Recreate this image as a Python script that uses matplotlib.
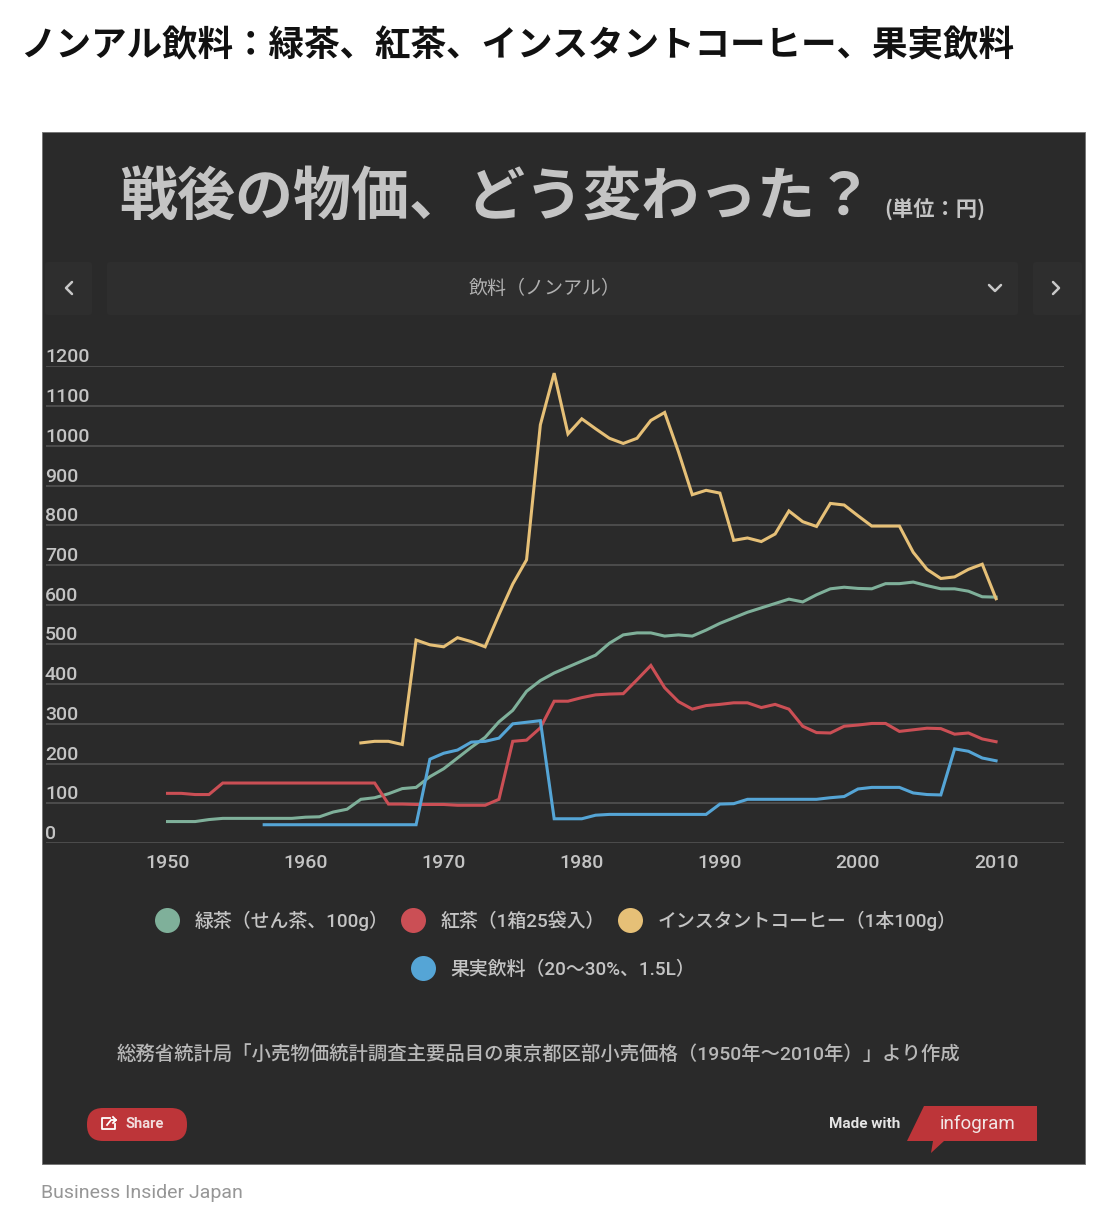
import matplotlib
matplotlib.use("Agg")
import matplotlib.pyplot as plt
from matplotlib.lines import Line2D
from matplotlib.patches import Rectangle, FancyBboxPatch, Polygon
from matplotlib.font_manager import FontProperties

JP = ['Noto Sans CJK JP', 'DejaVu Sans']
MIX = ['Roboto', 'Noto Sans CJK JP', 'DejaVu Sans']
plt.rcParams['font.family'] = JP

# ---------- data ----------
green_years = list(range(1950, 2011))
green_values = [54, 54, 54, 59, 62, 62, 62, 62, 62, 62, 65, 66, 78, 85, 110, 114, 124, 137, 140, 167,
                187, 214, 241, 266, 305, 334, 382, 409, 428, 443, 458, 473, 503, 524, 529, 529, 521, 524, 521, 536,
                553, 567, 581, 592, 603, 614, 607, 625, 640, 644, 641, 640, 653, 653, 657, 648, 640, 640, 634, 620, 619]
red_years = list(range(1950, 2011))
red_values = [125, 125, 122, 122, 151, 151, 151, 151, 151, 151, 151, 151, 151, 151, 151, 151, 98, 98, 97, 97,
              97, 95, 95, 95, 110, 256, 259, 290, 357, 357, 366, 373, 375, 376, 411, 447, 391, 356, 337, 346,
              349, 353, 353, 341, 349, 337, 294, 278, 277, 294, 297, 301, 301, 281, 285, 289, 288, 274, 277, 262, 255]
gold_years = list(range(1964, 2011))
gold_values = [252, 256, 256, 248, 511, 499, 494, 517, 507, 494, 575, 652, 713, 1053, 1183, 1030, 1068, 1043, 1019, 1006,
               1019, 1064, 1084, 985, 877, 888, 881, 762, 768, 759, 778, 836, 809, 797, 855, 851, 824, 798, 798, 798,
               732, 689, 666, 670, 689, 702, 615]
blue_years = list(range(1957, 2011))
blue_values = [46, 46, 46, 46, 46, 46, 46, 46, 46, 46, 46, 46, 211, 226, 234, 254, 256, 264, 300, 304,
               308, 61, 61, 61, 70, 72, 72, 72, 72, 72, 72, 72, 72, 98, 99, 110, 110, 110, 110, 110,
               110, 114, 117, 136, 140, 140, 140, 126, 122, 121, 237, 231, 214, 207]
x_ticks = [1950, 1960, 1970, 1980, 1990, 2000, 2010]
y_ticks = [0, 100, 200, 300, 400, 500, 600, 700, 800, 900, 1000, 1100, 1200]
series_names = ['緑茶（せん茶、100g）', '紅茶（1箱25袋入）', 'インスタントコーヒー（1本100g）', '果実飲料（20～30%、1.5L）']
series_colors = ['#7fb09a', '#cb4f55', '#e6c077', '#55a5d6']

W, H = 1113, 1220
PANEL = '#2a2a2a'
TXT = '#c4c4c4'
RED = '#bd3539'
fig = plt.figure(figsize=(W / 100, H / 100), dpi=100, facecolor='white')

# ---------- page and panel furniture, in pixel coordinates ----------
bg = fig.add_axes([0, 0, 1, 1], zorder=0)
bg.set_xlim(0, W)
bg.set_ylim(H, 0)
bg.axis('off')
bg.text(20, 46, 'ノンアル飲料：緑茶、紅茶、インスタントコーヒー、果実飲料', fontsize=25.6, fontweight='bold',
        color='#111111', va='center', ha='left')
bg.add_patch(Rectangle((42, 131.5), 1043, 1032.5, fc=PANEL, ec='#777777', lw=0.7))
bg.text(119, 198, '戦後の物価、どう変わった？', fontsize=41.8, fontweight='bold', color=TXT, va='center', ha='left')
bg.text(884, 209, '(単位：円)', fontsize=15.3, fontweight='bold', color=TXT, va='center', ha='left')
for x0, x1 in [(45, 92), (107, 1018), (1033, 1082)]:
    bg.add_patch(FancyBboxPatch((x0 + 3, 265), x1 - x0 - 6, 47, boxstyle='round,pad=3', fc='#2e2e2e', ec='none'))
bg.text(545, 288, '飲料（ノンアル）', fontsize=13.7, color='#b0b0b0', va='center', ha='center')
for xs, ys in [([72, 66, 72], [282, 288, 294]), ([1053, 1059, 1053], [282, 288, 294]),
               ([989, 995, 1001], [285, 291, 285])]:
    bg.plot(xs, ys, color='#c8c8c8', lw=1.8, solid_capstyle='round')
bg.text(538, 1054, '総務省統計局「小売物価統計調査主要品目の東京都区部小売価格（1950年～2010年）」より作成',
        fontsize=13.95, color='#b8b8b8', va='center', ha='center', family=MIX, fontweight='medium')

# share button
bg.add_patch(FancyBboxPatch((87, 1108), 100, 33, boxstyle='round,pad=0,rounding_size=16', fc=RED, ec='none'))
bg.plot([110, 102, 102, 115, 115], [1118, 1118, 1129, 1129, 1124], color='white', lw=1.3)
bg.plot([107, 111, 116], [1125, 1120, 1120], color='white', lw=1.3)
bg.plot([113, 116, 113], [1117, 1120, 1123], color='white', lw=1.3)
bg.text(145, 1124, 'Share', fontsize=10.5, fontweight='bold', color='#f2dcdc', va='center', ha='center',
        family=['Roboto', 'DejaVu Sans'])
# infogram badge
bg.text(900, 1124, 'Made with', fontsize=11, fontweight='bold', color='#e4e4e4', va='center', ha='right',
        family=['Roboto', 'DejaVu Sans'])
bg.add_patch(Polygon([(924, 1106), (1037, 1106), (1037, 1141), (944, 1141), (931, 1153), (933, 1141), (907, 1141)],
                     closed=True, fc=RED, ec='none'))
bg.text(978, 1124, 'infogram', fontsize=13.5, color='#f2e6e6', va='center', ha='center',
        family=['Roboto', 'DejaVu Sans'])
bg.text(41, 1193, 'Business Insider Japan', fontsize=14, color='#969696', va='center', ha='left',
        family=['Roboto', 'DejaVu Sans'])

# ---------- chart ----------
left, right, top, bottom = 46, 1064, 366.4, 843
ax = fig.add_axes([left / W, 1 - bottom / H, (right - left) / W, (bottom - top) / H], zorder=2)
ax.patch.set_alpha(0)
ax.set_xlim(1941.2, 2014.92)
ax.set_ylim(0, 1200)
for s in ax.spines.values():
    s.set_visible(False)
ax.set_yticks(y_ticks)
ax.set_xticks(x_ticks)
ax.grid(axis='y', color='#565656', lw=1.1)
ax.set_axisbelow(True)
ax.tick_params(axis='both', length=0, labelcolor=TXT)
ax.tick_params(axis='x', pad=8)
ax.tick_params(axis='y', pad=0.8)
for lab in ax.get_xticklabels():
    lab.set(family=['Roboto', 'DejaVu Sans'], fontsize=14, fontweight='medium')
for lab in ax.get_yticklabels():
    lab.set(family=['Roboto', 'DejaVu Sans'], fontsize=14, fontweight='medium', ha='left', va='bottom')

series = [(green_years, green_values), (red_years, red_values), (gold_years, gold_values), (blue_years, blue_values)]
for (xs, ys), c, n in zip(series, series_colors, series_names):
    ax.plot(xs, ys, color=c, lw=2.2, label=n, solid_joinstyle='miter')

# ---------- legend, two centred rows ----------
handles = [Line2D([], [], ls='none', marker='o', ms=18, color=c, mec='none') for c in series_colors]
font = FontProperties(family=MIX, size=13.6, weight='medium')
common = dict(frameon=False, labelcolor=TXT, prop=font, handletextpad=0.85, handlelength=1.2,
              borderpad=0, borderaxespad=0, loc='center')
fig.legend(handles[:3], series_names[:3], ncol=3, columnspacing=0.72,
           bbox_to_anchor=(556 / W, 1 - 921 / H), **common)
fig.legend(handles[3:], series_names[3:], ncol=1,
           bbox_to_anchor=(553 / W, 1 - 970 / H), **common)

fig.savefig('out.png', dpi=100, facecolor='white')
